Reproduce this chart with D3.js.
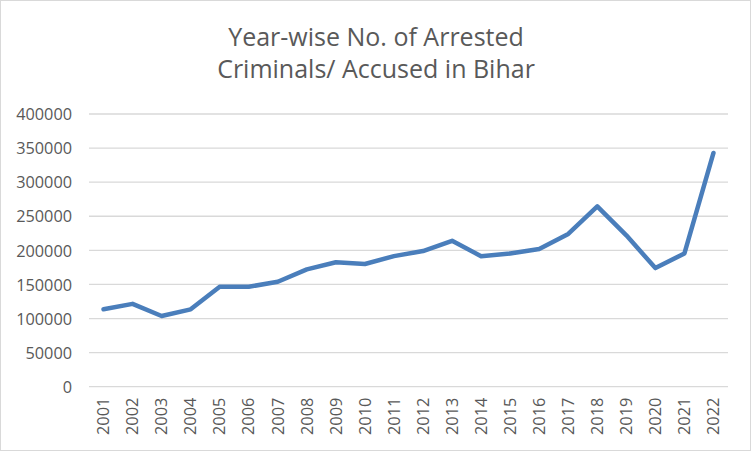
<!DOCTYPE html>
<html><head><meta charset="utf-8">
<script src="https://cdn.jsdelivr.net/npm/d3@7"></script>
<style>body{margin:0;background:#fff}svg{display:block}</style>
</head><body>
<svg id="c" width="752" height="452"></svg>
<script>
const years = ["2001","2002","2003","2004","2005","2006","2007","2008","2009","2010","2011","2012","2013","2014","2015","2016","2017","2018","2019","2020","2021","2022"];
const arrested = [113500,121500,103700,113500,146500,146500,154000,172000,182500,180000,191500,199000,214000,191500,195500,202000,224000,264500,222000,174000,195500,342800];
const yTicks = [0,50000,100000,150000,200000,250000,300000,350000,400000];
const titleLines = ["Year-wise No. of Arrested","Criminals/ Accused in Bihar"];

const svg = d3.select("#c");
const W=752,H=452;
svg.append("rect").attr("x",0.5).attr("y",0.5).attr("width",W-2).attr("height",H-2)
  .attr("fill","#fff").attr("stroke","#d9d9d9");

const m={l:89,r:728,t:114,b:386.7};
const x=d3.scaleBand().domain(years).range([m.l,m.r]);
const y=d3.scaleLinear().domain([0,400000]).range([m.b,m.t]);

const font="'Open Sans', sans-serif";
// grid
svg.append("g").selectAll("line").data(yTicks).join("line")
  .attr("x1",m.l).attr("x2",m.r).attr("y1",d=>y(d)).attr("y2",d=>y(d))
  .attr("stroke","#d9d9d9").attr("stroke-width",1.3);

// y axis
const ya=svg.append("g").attr("transform",`translate(${m.l},0)`)
  .call(d3.axisLeft(y).tickValues(yTicks).tickFormat(d3.format("d")).tickSize(0).tickPadding(17));
ya.select(".domain").remove();
ya.selectAll("text").attr("font-family",font).attr("font-size",16.3).attr("fill","#595959").attr("dy","0.35em");

// x axis
const xa=svg.append("g").attr("transform",`translate(0,${m.b})`)
  .call(d3.axisBottom(x).tickSize(0).tickPadding(0));
xa.select(".domain").remove();
xa.selectAll("text").attr("font-family",font).attr("font-size",16.3).attr("fill","#595959")
  .attr("transform","translate(0,11) rotate(-90)").attr("text-anchor","end").attr("x",0).attr("y",0).attr("dy","0.35em");

// line
const line=d3.line().x((d,i)=>x(years[i])+x.bandwidth()/2).y(d=>y(d));
svg.append("path").datum(arrested).attr("d",line).attr("fill","none")
  .attr("stroke","#4a7ebb").attr("stroke-width",4.5).attr("stroke-linejoin","round").attr("stroke-linecap","round");

// title
svg.append("g").selectAll("text").data(titleLines).join("text")
  .attr("x",376).attr("y",(d,i)=>45.5+i*32.5).attr("text-anchor","middle")
  .attr("font-family",font).attr("font-size",25).attr("fill","#595959").text(d=>d);
</script>
</body></html>
